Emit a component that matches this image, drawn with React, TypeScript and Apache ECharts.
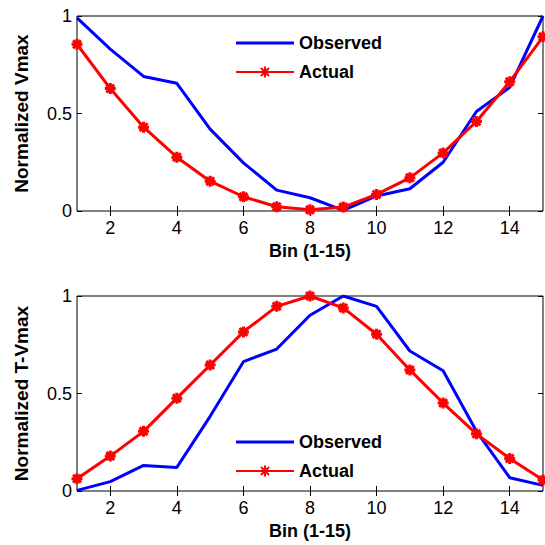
import React, { useEffect, useRef } from "react";
import * as echarts from "echarts";

const bins = [1, 2, 3, 4, 5, 6, 7, 8, 9, 10, 11, 12, 13, 14, 15];
const vmaxObserved = [0.99, 0.83, 0.69, 0.655, 0.42, 0.247, 0.107, 0.068, 0.003, 0.077, 0.114, 0.25, 0.51, 0.634, 1.0];
const vmaxActual = [0.855, 0.628, 0.43, 0.276, 0.153, 0.073, 0.022, 0.006, 0.02, 0.085, 0.17, 0.298, 0.459, 0.663, 0.893];
const tvmaxObserved = [0.003, 0.048, 0.131, 0.121, 0.383, 0.663, 0.728, 0.901, 1.0, 0.947, 0.718, 0.617, 0.306, 0.068, 0.029];
const tvmaxActual = [0.063, 0.179, 0.306, 0.476, 0.646, 0.816, 0.947, 1.0, 0.939, 0.804, 0.621, 0.451, 0.293, 0.167, 0.056];
const xTickValues = [2, 4, 6, 8, 10, 12, 14];
const seriesNames = ["Observed", "Actual"];
const xName = "Bin (1-15)";
const yNames = ["Normalized Vmax", "Normalized T-Vmax"];

const FONT = "'Liberation Sans', Arial, Helvetica, sans-serif";
const STAR = "path://M0 -6 L0 6 M-6 0 L6 0 M-4.3 -4.3 L4.3 4.3 M-4.3 4.3 L4.3 -4.3";
const LINE_ICON = "path://M0 0 L58 0 L58 3 L0 3 Z";

export default function App() {
  const ref = useRef<HTMLDivElement>(null);
  useEffect(() => {
    document.body.style.margin = "0";
    const chart = echarts.init(ref.current!, null, { renderer: "svg" });
    const grids = [
      { left: 77, top: 16, width: 466, height: 195 },
      { left: 77, top: 296, width: 466, height: 195 },
    ];
    const xAxes: any[] = [];
    const yAxes: any[] = [];
    grids.forEach((_, g) => {
      xAxes.push({
        type: "value", gridIndex: g, position: "bottom", min: 1, max: 15,
        axisLine: { show: false },
        axisTick: { show: true, inside: true, length: 5, customValues: xTickValues, lineStyle: { color: "#000" } },
        axisLabel: { customValues: xTickValues, fontSize: 18, color: "#000", fontFamily: FONT, margin: 8 },
        splitLine: { show: false },
        name: xName, nameLocation: "middle", nameGap: 31,
        nameTextStyle: { fontSize: 18, fontWeight: "bold", color: "#000", fontFamily: FONT },
      });
      xAxes.push({
        type: "value", gridIndex: g, position: "top", min: 1, max: 15,
        axisLine: { show: false },
        axisTick: { show: true, inside: true, length: 5, customValues: xTickValues, lineStyle: { color: "#000" } },
        axisLabel: { show: false },
        splitLine: { show: false },
      });
      yAxes.push({
        type: "value", gridIndex: g, position: "left", min: 0, max: 1, interval: 0.5,
        axisLine: { show: false },
        axisTick: { show: true, inside: true, length: 5, lineStyle: { color: "#000" } },
        axisLabel: { fontSize: 18, color: "#000", fontFamily: FONT, margin: 5 },
        splitLine: { show: false },
        name: yNames[g], nameLocation: "middle", nameGap: 46,
        nameTextStyle: { fontSize: 19, fontWeight: "bold", color: "#000", fontFamily: FONT },
      });
      yAxes.push({
        type: "value", gridIndex: g, position: "right", min: 0, max: 1, interval: 0.5,
        axisLine: { show: false },
        axisTick: { show: true, inside: true, length: 5, lineStyle: { color: "#000" } },
        axisLabel: { show: false },
        splitLine: { show: false },
      });
    });
    const pairs = (arr: number[]) => bins.map((b, i) => [b, arr[i]]);
    const obsSeries = (data: number[], g: number) => ({
      type: "line", name: seriesNames[0], xAxisIndex: g * 2, yAxisIndex: g * 2,
      data: pairs(data), symbol: "none", showSymbol: false,
      lineStyle: { color: "#0000ff", width: 3 }, itemStyle: { color: "#0000ff" },
    });
    const actSeries = (data: number[], g: number) => ({
      type: "line", name: seriesNames[1], xAxisIndex: g * 2, yAxisIndex: g * 2,
      data: pairs(data), symbol: STAR, symbolSize: 11, showSymbol: true,
      lineStyle: { color: "#ff0000", width: 3 },
      itemStyle: { color: "#ff0000", borderColor: "#ff0000", borderWidth: 3 },
    });
    const legendBase = {
      orient: "vertical", left: 230, itemWidth: 58, itemHeight: 14, itemGap: 11,
      data: [{ name: seriesNames[0], icon: LINE_ICON }, { name: seriesNames[1] }],
      selectedMode: false,
      textStyle: { fontSize: 18, fontWeight: "bold", color: "#000", fontFamily: FONT },
    };
    chart.setOption({
      animation: false,
      backgroundColor: "#fff",
      grid: grids.map((g) => ({ ...g, show: true, borderColor: "#000", borderWidth: 1, backgroundColor: "transparent" })),
      xAxis: xAxes,
      yAxis: yAxes,
      legend: [
        { ...legendBase, top: 29 },
        { ...legendBase, top: 428 },
      ],
      series: [
        obsSeries(vmaxObserved, 0),
        actSeries(vmaxActual, 0),
        obsSeries(tvmaxObserved, 1),
        actSeries(tvmaxActual, 1),
      ],
    });
    return () => chart.dispose();
  }, []);
  return <div ref={ref} style={{ width: 545, height: 545 }} />;
}
